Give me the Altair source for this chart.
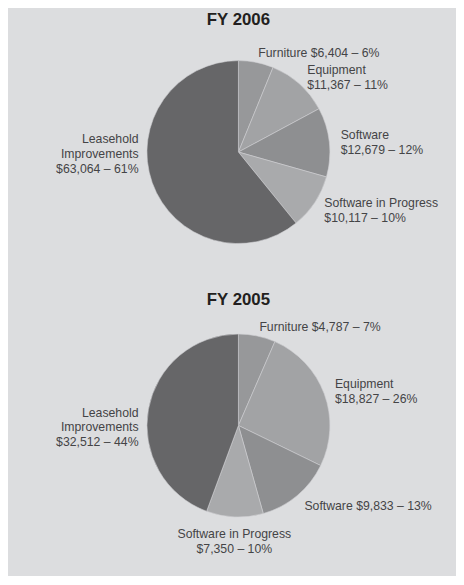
import altair as alt
import pandas as pd

categories = ["Furniture", "Equipment", "Software", "Software in Progress", "Leasehold Improvements"]
values_2006 = [6404, 11367, 12679, 10117, 63064]
values_2005 = [4787, 18827, 9833, 7350, 32512]
labels_2006 = ["Furniture $6,404 – 6%", "Equipment\n$11,367 – 11%", "Software\n$12,679 – 12%",
               "Software in Progress\n$10,117 – 10%", "Leasehold\nImprovements\n$63,064 – 61%"]
labels_2005 = ["Furniture $4,787 – 7%", "Equipment\n$18,827 – 26%", "Software $9,833 – 13%",
               "Software in Progress\n$7,350 – 10%", "Leasehold\nImprovements\n$32,512 – 44%"]
slice_colors = ["#97989a", "#a2a3a5", "#8e8f91", "#a9aaac", "#666668"]

BG = "#dcdddf"
FONT = "Liberation Sans"
TEXT_COLOR = "#444446"
LINE_H = 15

tscale = alt.Scale(domain=[0, 1])
cscale = alt.Scale(domain=categories, range=slice_colors)


def pie(values, labels, title, height):
    df = pd.DataFrame({"idx": list(range(len(categories))), "category": categories,
                       "value": values, "label": labels})
    base = (
        alt.Chart(df)
        .transform_joinaggregate(total="sum(value)")
        .transform_window(cum="sum(value)", sort=[alt.SortField("idx")], frame=[None, 0])
        .transform_calculate(
            start="(datum.cum - datum.value) / datum.total",
            end="datum.cum / datum.total",
            mid="(datum.cum - datum.value / 2) / datum.total",
            nlines="split(datum.label, '\\n').length",
        )
        .transform_calculate(
            anchor="(datum.start <= 0.75 && datum.end >= 0.75) ? 0.75 : datum.mid"
        )
    )
    arcs = base.mark_arc(outerRadius=92.5, stroke="#cfd0d2", strokeWidth=0.6).encode(
        theta=alt.Theta("start:Q", scale=tscale),
        theta2="end:Q",
        color=alt.Color("category:N", scale=cscale, legend=None),
    )
    txt = dict(font=FONT, fontSize=12.4, lineHeight=LINE_H, color=TEXT_COLOR, lineBreak="\n")
    layers = [arcs]
    groups = [
        ("datum.anchor < 0.45", "left", 104),
        ("datum.anchor > 0.55", "right", 101),
    ]
    for cond, align, rad in groups:
        for n in (1, 2, 3):
            layers.append(
                base.transform_filter(f"{cond} && datum.nlines == {n}")
                .mark_text(align=align, baseline="middle", dy=-(n - 1) * LINE_H / 2 + 2, **txt)
                .encode(theta=alt.Theta("anchor:Q", scale=tscale), radius=alt.value(rad),
                        text="label:N")
            )
    layers.append(
        base.transform_filter("datum.anchor >= 0.45 && datum.anchor <= 0.55")
        .mark_text(align="center", baseline="top", **txt)
        .encode(theta=alt.Theta("anchor:Q", scale=tscale), radius=alt.value(104), text="label:N")
    )
    return alt.layer(*layers).properties(
        width=436,
        height=height,
        title=alt.TitleParams(title, font=FONT, fontSize=17, fontWeight="bold",
                              color="#231f20", anchor="middle", offset=5, dy=-2),
    )


chart = (
    alt.vconcat(
        pie(values_2006, labels_2006, "FY 2006", 235),
        pie(values_2005, labels_2005, "FY 2005", 222),
        spacing=23,
        padding={"left": 15, "top": 0, "right": 2, "bottom": 17},
    )
    .configure(background=BG)
    .configure_view(stroke="transparent")
)

chart.save("out.html", embed_options={"renderer": "svg", "actions": False})
